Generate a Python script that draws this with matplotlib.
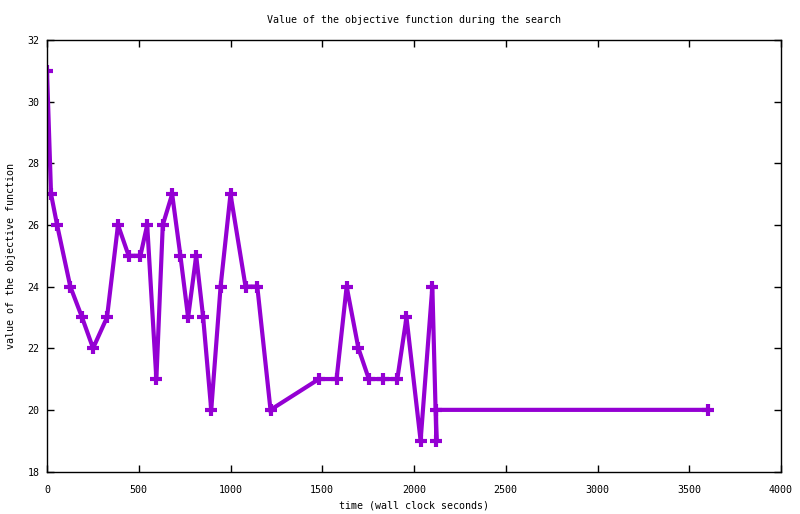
import numpy as np
import matplotlib
matplotlib.use('Agg')
import matplotlib.pyplot as plt

time_s = [0, 22, 55, 127, 191, 251, 327, 387, 445, 509, 546, 596, 631, 682,
          727, 769, 813, 851, 895, 946, 1000, 1082, 1146, 1218, 1482, 1578,
          1633, 1697, 1754, 1833, 1909, 1959, 2036, 2100, 2122, 2120, 3600]
objective = [31, 27, 26, 24, 23, 22, 23, 26, 25, 25, 26, 21, 26, 27,
             25, 23, 25, 23, 20, 24, 27, 24, 24, 20, 21, 21,
             24, 22, 21, 21, 21, 23, 19, 24, 19, 20, 20]
x_ticks = [0, 500, 1000, 1500, 2000, 2500, 3000, 3500, 4000]
y_ticks = [18, 20, 22, 24, 26, 28, 30, 32]

plt.rcParams['font.family'] = ['DejaVu Sans Mono']
plt.rcParams['font.size'] = 7.2

fig = plt.figure(figsize=(8, 5.14), dpi=100)
ax = fig.add_axes([47 / 800, 42.5 / 514, 734 / 800, 431.5 / 514])

ax.plot(time_s, objective, color='#9400d3', lw=3.0, marker='+',
        ms=8, mew=3, solid_joinstyle='miter')

ax.set_xlim(0, 4000)
ax.set_ylim(18, 32)
ax.set_xticks(x_ticks)
ax.set_yticks(y_ticks)
ax.tick_params(direction='in', top=True, right=True, length=5, width=1)
ax.tick_params(axis='x', pad=9.5)
ax.tick_params(axis='y', pad=5.5)
for sp in ax.spines.values():
    sp.set_linewidth(1)

ax.set_title('Value of the objective function during the search', fontsize=7.2, pad=12)
ax.set_xlabel('time (wall clock seconds)', labelpad=4)
ax.set_ylabel('value of the objective function', labelpad=8)

plt.savefig('out.png', dpi=100)
